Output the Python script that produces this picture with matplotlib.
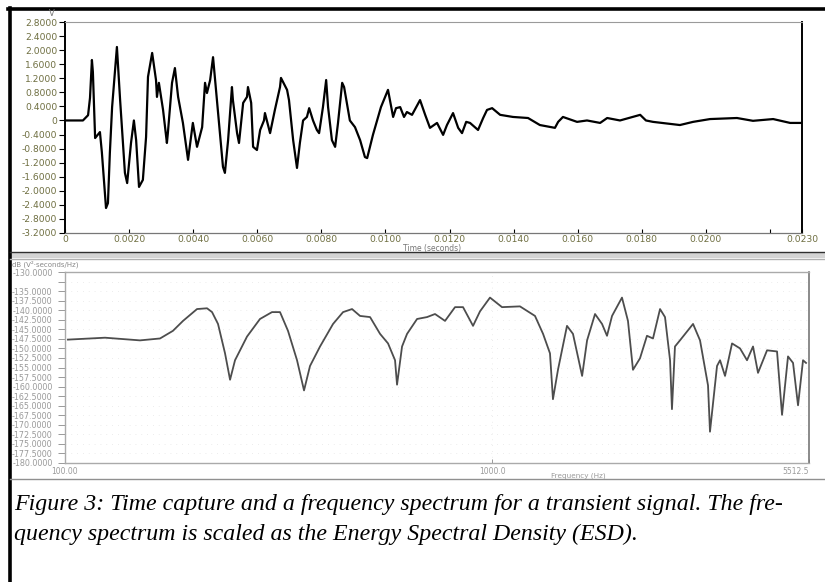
import matplotlib
matplotlib.use("Agg")
import matplotlib.pyplot as plt
from matplotlib.lines import Line2D
from matplotlib.patches import Rectangle
import numpy as np

plt.rcParams['axes.unicode_minus'] = False

# time capture (ms, volts)
time_ms = [0, 0.56, 0.72, 0.78, 0.84, 0.87, 0.94, 1.09, 1.15, 1.28, 1.34, 1.40, 1.47, 1.62,
           1.72, 1.87, 1.94, 2.06, 2.15, 2.22, 2.31, 2.43, 2.53, 2.59, 2.72, 2.84, 2.87,
           2.93, 3.06, 3.18, 3.21, 3.34, 3.43, 3.53, 3.68, 3.84, 3.99, 4.12, 4.28, 4.37,
           4.43, 4.53, 4.62, 4.74, 4.93, 4.99, 5.09, 5.21, 5.24, 5.37, 5.43, 5.56, 5.68,
           5.71, 5.81, 5.87, 5.99, 6.09, 6.21, 6.24, 6.40, 6.55, 6.71, 6.74, 6.93, 6.99,
           7.12, 7.24, 7.33, 7.43, 7.55, 7.62, 7.74, 7.86, 7.93, 8.05, 8.15, 8.21, 8.33,
           8.43, 8.52, 8.65, 8.71, 8.89, 9.05, 9.21, 9.36, 9.43, 9.61, 9.86, 10.08, 10.24,
           10.33, 10.46, 10.58, 10.67, 10.83, 11.08, 11.24, 11.39, 11.61, 11.80, 11.92,
           12.11, 12.27, 12.39, 12.52, 12.64, 12.89, 13.05, 13.17, 13.33, 13.58, 13.98,
           14.45, 14.82, 15.29, 15.39, 15.54, 15.98, 16.29, 16.70, 16.92, 17.32, 17.95,
           18.13, 18.35, 19.19, 19.60, 20.13, 20.97, 21.47, 22.10, 22.63, 23.00]
volts = [0, 0, 0.15, 0.64, 1.72, 1.38, -0.50, -0.33, -0.90, -2.49, -2.35, -0.92, 0.38, 2.09,
         0.58, -1.49, -1.78, -0.64, 0.0, -0.56, -1.89, -1.69, -0.47, 1.24, 1.92, 1.15, 0.67,
         1.07, 0.30, -0.64, -0.36, 1.07, 1.49, 0.67, -0.07, -1.12, -0.07, -0.75, -0.19, 1.07,
         0.78, 1.15, 1.80, 0.58, -1.32, -1.49, -0.56, 0.95, 0.58, -0.36, -0.64, 0.50, 0.67,
         0.95, 0.50, -0.75, -0.84, -0.27, 0.0, 0.21, -0.36, 0.30, 0.95, 1.21, 0.87, 0.58,
         -0.56, -1.35, -0.64, 0.0, 0.10, 0.35, 0.0, -0.27, -0.36, 0.38, 1.15, 0.38, -0.56,
         -0.75, -0.07, 1.07, 0.95, 0.0, -0.19, -0.56, -1.04, -1.07, -0.41, 0.38, 0.87, 0.10,
         0.35, 0.38, 0.10, 0.24, 0.16, 0.58, 0.16, -0.21, -0.07, -0.41, -0.13,
         0.21, -0.21, -0.36, -0.04, -0.07, -0.27, 0.07, 0.30, 0.35, 0.16, 0.10,
         0.07, -0.13, -0.21, -0.04, 0.10, -0.04, 0.0, -0.07, 0.07, 0.0, 0.16,
         0.0, -0.04, -0.13, -0.04, 0.04, 0.07, -0.01, 0.04, -0.07, -0.07]

# energy spectral density (Hz, dB)
freq_hz = [101.6, 124.1, 149.8, 166.9, 178.9, 188.9, 203.7, 215.0, 220.9, 228.1, 236.9, 243.4,
           250.0, 266.7, 286.0, 305.1, 318.6, 332.6, 349.2, 362.6, 374.5, 395.3, 424.0,
           447.5, 469.7, 490.4, 517.6, 546.3, 570.3, 592.2, 598.6, 615.0, 631.8, 666.8,
           703.7, 734.6, 775.3, 818.2, 854.3, 901.6, 936.1, 987.9, 1054, 1161, 1259, 1315,
           1365, 1387, 1425, 1496, 1545, 1623, 1667, 1740, 1807, 1856, 1907, 2012, 2078,
           2135, 2217, 2302, 2378, 2470, 2537, 2607, 2634, 2677, 2750, 2951, 3064, 3199,
           3233, 3358, 3413, 3506, 3641, 3801, 3947, 4077, 4188, 4397, 4640, 4767, 4923,
           5058, 5196, 5338, 5425]
esd_db = [-147.7, -147.2, -147.9, -147.4, -145.4, -142.8, -139.7, -139.5, -140.5, -143.6,
          -151.3, -158.2, -153.1, -146.9, -142.3, -140.5, -140.5, -145.4, -153.1, -161.0,
          -154.6, -149.5, -143.6, -140.5, -139.7, -141.5, -141.8, -146.2, -148.7, -153.1,
          -159.5, -149.5, -146.2, -142.3, -141.8, -141.0, -142.8, -139.2, -139.2, -144.1,
          -140.3, -136.7, -139.2, -139.0, -141.5, -146.2, -151.3, -163.3, -155.6, -144.1,
          -146.2, -157.2, -147.9, -141.0, -143.6, -146.7, -141.5, -136.7, -142.8, -155.6,
          -152.6, -146.7, -147.4, -139.7, -141.8, -153.1, -165.9, -149.5, -147.9, -143.6,
          -147.9, -159.7, -171.8, -154.6, -153.1, -157.2, -148.7, -150.0, -153.1, -149.5,
          -156.4, -150.5, -150.8, -167.4, -152.1, -153.8, -164.9, -153.1, -153.8]

v_ticks = [2.8, 2.4, 2.0, 1.6, 1.2, 0.8, 0.4, 0, -0.4, -0.8, -1.2, -1.6, -2.0, -2.4, -2.8, -3.2]
t_ticks = [0, 0.002, 0.004, 0.006, 0.008, 0.010, 0.012, 0.014, 0.016, 0.018, 0.020, 0.022, 0.023]
db_ticks = [-130, -132.5, -135, -137.5, -140, -142.5, -145, -147.5, -150, -152.5, -155,
            -157.5, -160, -162.5, -165, -167.5, -170, -172.5, -175, -177.5, -180]
f_ticks = [100, 1000, 5512.5]
f_labels = ['100.00', '1000.0', '5512.5']

W, H = 825, 582
fig = plt.figure(figsize=(W / 100, H / 100), dpi=100)


def fx(px):
    return px / W


def fy(py):
    return 1 - py / H


def hline(y, x0, x1, lw, c):
    fig.add_artist(Line2D([fx(x0), fx(x1)], [fy(y), fy(y)], lw=lw, color=c,
                          transform=fig.transFigure))


def vline(x, y0, y1, lw, c):
    fig.add_artist(Line2D([fx(x), fx(x)], [fy(y0), fy(y1)], lw=lw, color=c,
                          transform=fig.transFigure))


# page frame
hline(8.5, 8, 825, 2.6, 'black')
vline(9.5, 8, 582, 2.6, 'black')
# panel separators
hline(252, 10, 825, 1.0, '#303030')
fig.add_artist(Rectangle((fx(10), fy(258)), fx(815), fy(253) - fy(258), color='#d4d4d4',
                         transform=fig.transFigure, lw=0))
hline(259, 10, 825, 1.0, '#b0b0b0')
hline(479, 10, 825, 1.0, '#909090')

lab_col = '#6e6e40'
grey_lab = '#9a9a9a'

# top panel: time capture
ax1 = fig.add_axes([fx(65), fy(233), fx(802) - fx(65), fy(22) - fy(233)])
ax1.plot(np.array(time_ms) / 1000, volts, color='black', lw=1.6)
ax1.set_xlim(0, 0.023)
ax1.set_ylim(-3.2, 2.8)
ax1.set_yticks(v_ticks)
ax1.set_yticklabels(['0' if v == 0 else '%.4f' % v for v in v_ticks])
ax1.set_xticks(t_ticks)
ax1.set_xticklabels(['0' if t == 0 else ('' if t == 0.022 else '%.4f' % t) for t in t_ticks])
ax1.tick_params(axis='y', direction='out', length=4, width=0.8, labelsize=6.6,
                labelcolor=lab_col, pad=1.5)
ax1.tick_params(axis='x', direction='in', length=3, width=0.8, labelsize=6.6,
                labelcolor=lab_col, pad=1.5)
ax1.spines['left'].set_linewidth(1.4)
ax1.spines['right'].set_linewidth(1.4)
ax1.spines['top'].set_color('#9a9a9a')
ax1.spines['top'].set_linewidth(0.8)
ax1.spines['bottom'].set_color('#777777')
ax1.spines['bottom'].set_linewidth(0.9)
fig.text(fx(52), fy(13), 'V', fontsize=6, color='#777777', ha='center', va='center')
fig.text(fx(432), fy(248), 'Time (seconds)', fontsize=5.5, color='#777777',
         ha='center', va='center')

# lower panel: energy spectral density
ax2 = fig.add_axes([fx(65), fy(463), fx(809) - fx(65), fy(272) - fy(463)])
ax2.plot(freq_hz, esd_db, color='#4d4d4d', lw=1.3)
ax2.set_xscale('log')
ax2.set_xlim(100, 5512.5)
ax2.set_ylim(-180, -130)
ax2.set_yticks(db_ticks)
ax2.set_yticklabels(['' if d == -132.5 else '%.4f' % d for d in db_ticks])
ax2.set_xticks(f_ticks)
ax2.set_xticklabels(f_labels)
ax2.xaxis.set_minor_locator(matplotlib.ticker.NullLocator())
ax2.grid(True, which='both', axis='both', color='#e6e6e6', lw=0.6, ls=(0, (1, 6)))
ax2.tick_params(axis='y', direction='out', length=5, width=0.7, labelsize=5.8,
                labelcolor=grey_lab, color='#999999', pad=4)
ax2.tick_params(axis='x', direction='in', length=3, width=0.7, labelsize=5.5,
                labelcolor=grey_lab, color='#999999', pad=3)
for s in ['top', 'bottom', 'left']:
    ax2.spines[s].set_color('#aaaaaa')
    ax2.spines[s].set_linewidth(1.0)
ax2.spines['right'].set_color('#777777')
ax2.spines['right'].set_linewidth(1.2)
ax2.xaxis.get_majorticklabels()[-1].set_horizontalalignment('right')
fig.text(fx(12), fy(264), 'dB (V\u00b2\u00b7seconds/Hz)', fontsize=5, color='#888888',
         ha='left', va='center')
fig.text(fx(578), fy(476), 'Frequency (Hz)', fontsize=5.2, color='#999999',
         ha='center', va='center')

# caption
cap = ('Figure 3: Time capture and a frequency spectrum for a transient signal. The fre-',
       'quency spectrum is scaled as the Energy Spectral Density (ESD).')
for i, line in enumerate(cap):
    fig.text(fx(14), fy(510 + 30 * i), line, fontsize=17.2, family='Liberation Serif',
             style='italic', ha='left', va='baseline')

fig.savefig('out.png', dpi=100)
